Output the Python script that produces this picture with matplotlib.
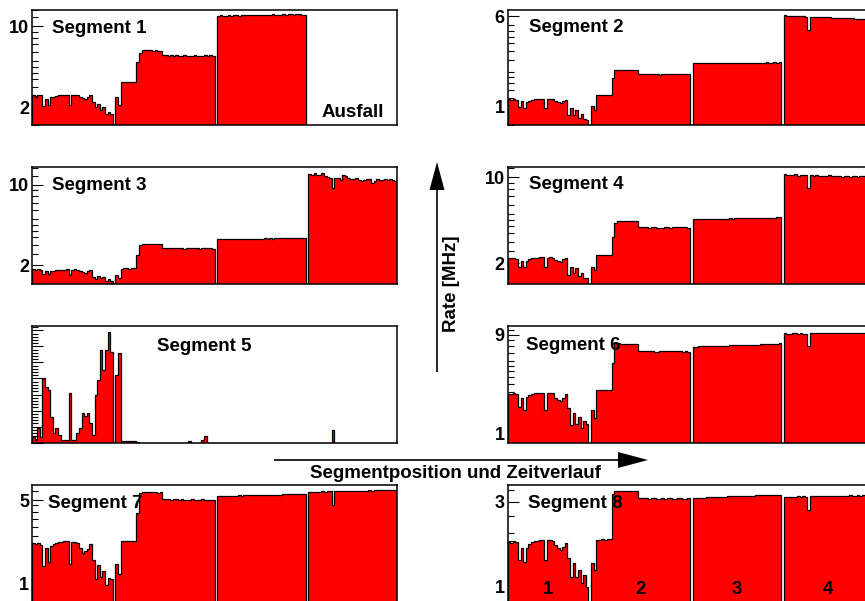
import numpy as np
import matplotlib
matplotlib.use("Agg")
import matplotlib.pyplot as plt
from matplotlib.ticker import FixedLocator, FixedFormatter, NullFormatter, MultipleLocator
from matplotlib.transforms import blended_transform_factory

plt.rcParams["font.family"] = ["Liberation Sans", "DejaVu Sans"]
plt.rcParams["font.weight"] = "bold"

# ---------------- data: rate [MHz] per time bin, for the 4 segment positions ----------------
seg1_pos1 = [2.54, 2.48, 2.57, 2.55, 2.04, 2.38, 2.08, 2.46, 2.46, 2.50, 2.54, 2.57, 2.57, 2.57, 2.08, 2.55,
             2.57, 2.54, 2.46, 2.42, 2.37, 2.46, 2.54, 2.23, 2.00, 2.15, 1.90, 2.00, 1.76, 1.82, 1.76]
seg1_pos2 = [2.46, 2.08, 3.28, 3.30, 3.30, 3.30, 3.32, 3.32, 4.90, 5.90, 6.20, 6.22, 6.20, 6.20, 6.18, 6.20,
             6.15, 6.18, 5.65, 5.62, 5.60, 5.62, 5.60, 5.62, 5.58, 5.60, 5.62, 5.60, 5.55, 5.60, 5.62, 5.60,
             5.60, 5.58, 5.62, 5.60, 5.62, 5.60]
seg1_pos3 = [12.4, 12.5, 12.4, 12.4, 12.5, 12.4, 12.5, 12.5, 12.4, 12.5, 12.5, 12.6, 12.5, 12.5, 12.6, 12.5,
             12.6, 12.6, 12.5, 12.6, 12.6, 12.7, 12.6, 12.6, 12.6, 12.7, 12.6, 12.7, 12.7, 12.6, 12.7, 12.7,
             12.6, 12.6]
seg1_pos4 = [0, 0, 0, 0, 0, 0, 0, 0, 0, 0, 0, 0, 0, 0, 0, 0, 0, 0, 0, 0, 0, 0, 0, 0, 0, 0, 0, 0, 0, 0, 0, 0, 0, 0]

seg2_pos1 = [1.16, 1.15, 1.16, 1.14, 1.00, 1.12, 0.97, 1.09, 1.13, 1.15, 1.16, 1.16, 1.17, 1.17, 0.97, 1.16,
             1.17, 1.16, 1.12, 1.09, 1.08, 1.13, 1.15, 0.85, 0.97, 0.85, 0.94, 0.80, 0.86, 0.78, 0.77]
seg2_pos2 = [1.02, 0.94, 1.26, 1.26, 1.27, 1.26, 1.27, 1.27, 1.75, 2.06, 2.08, 2.09, 2.08, 2.07, 2.08, 2.07,
             2.06, 2.07, 1.93, 1.92, 1.91, 1.91, 1.92, 1.90, 1.91, 1.90, 1.88, 1.90, 1.91, 1.90, 1.91, 1.92,
             1.91, 1.90, 1.91, 1.92, 1.91, 1.90]
seg2_pos3 = [2.37, 2.37, 2.38, 2.37, 2.38, 2.38, 2.37, 2.38, 2.38, 2.39, 2.38, 2.38, 2.39, 2.38, 2.39, 2.39,
             2.38, 2.39, 2.40, 2.39, 2.39, 2.40, 2.39, 2.40, 2.40, 2.39, 2.40, 2.40, 2.41, 2.40, 2.40, 2.41,
             2.40, 2.41]
seg2_pos4 = [6.15, 6.05, 6.03, 6.04, 6.01, 5.99, 6.00, 5.97, 5.96, 4.55, 5.95, 5.93, 5.92, 5.90, 5.90, 5.88,
             5.86, 5.85, 5.84, 5.82, 5.82, 5.80, 5.79, 5.78, 5.76, 5.75, 5.74, 5.73, 5.72, 5.70, 5.69, 5.68,
             5.66, 5.65]

seg3_pos1 = [1.83, 1.80, 1.83, 1.82, 1.67, 1.76, 1.66, 1.76, 1.79, 1.80, 1.81, 1.82, 1.82, 1.83, 1.63, 1.82,
             1.83, 1.81, 1.77, 1.74, 1.72, 1.76, 1.80, 1.56, 1.50, 1.60, 1.53, 1.56, 1.46, 1.50, 1.44]
seg3_pos2 = [1.63, 1.53, 1.86, 1.87, 1.87, 1.86, 1.87, 1.88, 2.45, 2.99, 3.08, 3.08, 3.07, 3.08, 3.06, 3.07,
             3.05, 3.06, 2.82, 2.80, 2.81, 2.80, 2.79, 2.80, 2.81, 2.79, 2.78, 2.80, 2.79, 2.80, 2.81, 2.79,
             2.78, 2.80, 2.79, 2.80, 2.82, 2.78]
seg3_pos3 = [3.35, 3.36, 3.35, 3.36, 3.37, 3.36, 3.37, 3.36, 3.38, 3.37, 3.38, 3.39, 3.38, 3.39, 3.38, 3.40,
             3.39, 3.40, 3.41, 3.40, 3.41, 3.40, 3.42, 3.41, 3.42, 3.43, 3.42, 3.43, 3.42, 3.44, 3.43, 3.44,
             3.45, 3.44]
seg3_pos4 = [12.47, 12.2, 12.6, 12.3, 12.2, 12.7, 11.9, 11.8, 11.4, 9.35, 11.4, 11.6, 11.05, 12.1, 11.9, 11.4,
             11.3, 11.2, 11.4, 11.05, 10.9, 11.1, 11.3, 11.2, 10.5, 10.9, 11.2, 11.0, 11.1, 11.3, 11.0, 11.2,
             11.1, 10.9]

seg4_pos1 = [2.22, 2.20, 2.22, 2.18, 1.88, 2.10, 1.88, 2.10, 2.17, 2.20, 2.21, 2.22, 2.23, 2.23, 1.88, 2.22,
             2.23, 2.21, 2.12, 2.08, 2.06, 2.15, 2.20, 1.61, 1.88, 1.66, 1.83, 1.58, 1.68, 1.51, 1.51]
seg4_pos2 = [1.88, 1.77, 2.34, 2.34, 2.35, 2.34, 2.35, 2.35, 3.29, 4.28, 4.42, 4.43, 4.42, 4.41, 4.42, 4.40,
             4.41, 4.40, 3.95, 3.93, 3.92, 3.93, 3.90, 3.92, 3.91, 3.88, 3.86, 3.90, 3.91, 3.92, 3.90, 3.91,
             3.92, 3.93, 3.92, 3.91, 3.93, 3.90]
seg4_pos3 = [4.56, 4.57, 4.58, 4.57, 4.58, 4.59, 4.60, 4.59, 4.60, 4.61, 4.60, 4.62, 4.61, 4.62, 4.63, 4.62,
             4.64, 4.63, 4.64, 4.65, 4.66, 4.65, 4.66, 4.67, 4.66, 4.68, 4.67, 4.69, 4.68, 4.70, 4.71, 4.70,
             4.72, 4.73]
seg4_pos4 = [10.7, 10.5, 10.4, 10.5, 10.6, 10.3, 10.5, 10.4, 10.4, 8.15, 10.4, 10.3, 10.4, 10.2, 10.3, 10.3,
             10.2, 10.4, 10.3, 10.2, 10.3, 10.2, 10.1, 10.3, 10.2, 10.1, 10.2, 10.2, 10.1, 10.3, 10.2, 10.1,
             10.2, 10.2]

seg5_pos1 = [0.37, 0.17, 0.90, 0.37, 4.00, 3.48, 3.28, 1.62, 0.58, 0.90, 0.48, 0.17, 0.17, 0.17, 3.07, 0.17,
             0.17, 0.58, 0.90, 1.87, 1.66, 1.87, 1.20, 0.48, 2.97, 3.90, 5.80, 4.52, 5.77, 6.90, 5.66]
seg5_pos2 = [4.21, 5.56, 0.10, 0.10, 0.10, 0.10, 0.10, 0.10, 0.05, 0, 0, 0, 0, 0, 0, 0,
             0, 0, 0, 0, 0, 0, 0, 0, 0, 0, 0, 0, 0.12, 0, 0, 0,
             0, 0.15, 0.40, 0, 0, 0]
seg5_pos3 = [0, 0, 0, 0, 0, 0, 0, 0, 0, 0, 0, 0, 0, 0, 0, 0, 0, 0, 0, 0, 0, 0, 0, 0, 0, 0, 0, 0, 0, 0, 0, 0, 0, 0]
seg5_pos4 = [0, 0, 0, 0, 0, 0, 0, 0, 0, 0.79, 0, 0, 0, 0, 0, 0, 0, 0, 0, 0, 0, 0, 0, 0, 0, 0, 0, 0, 0, 0, 0, 0, 0, 0]

seg6_pos1 = [2.42, 2.40, 2.44, 2.38, 1.81, 2.19, 1.68, 2.27, 2.35, 2.40, 2.45, 2.47, 2.47, 2.48, 1.68, 2.46,
             2.47, 2.44, 2.19, 2.10, 2.04, 2.19, 2.40, 1.75, 1.20, 1.56, 1.24, 1.43, 1.12, 1.33, 1.24]
seg6_pos2 = [1.68, 1.40, 2.63, 2.63, 2.64, 2.63, 2.64, 2.65, 4.78, 7.48, 7.45, 7.42, 7.40, 7.41, 7.38, 7.40,
             7.36, 7.30, 6.35, 6.30, 6.32, 6.28, 6.30, 6.25, 6.10, 6.20, 6.30, 6.32, 6.28, 6.30, 6.25, 6.32,
             6.30, 6.28, 6.30, 6.22, 6.30, 6.20]
seg6_pos3 = [6.93, 6.95, 6.98, 6.96, 7.00, 7.02, 7.00, 7.04, 7.05, 7.06, 7.04, 7.08, 7.10, 7.09, 7.12, 7.14,
             7.12, 7.16, 7.18, 7.17, 7.20, 7.22, 7.21, 7.25, 7.27, 7.26, 7.30, 7.32, 7.31, 7.35, 7.38, 7.36,
             7.42, 7.46]
seg6_pos4 = [9.35, 9.30, 9.28, 9.40, 9.32, 9.25, 9.36, 9.30, 9.25, 7.04, 9.45, 9.40, 9.38, 9.42, 9.35, 9.40,
             9.45, 9.38, 9.36, 9.40, 9.35, 9.32, 9.38, 9.40, 9.36, 9.34, 9.38, 9.40, 9.36, 9.38, 9.35, 9.37,
             9.36, 9.38]

seg7_pos1 = [2.17, 2.15, 2.17, 2.10, 1.40, 1.97, 1.52, 2.05, 2.15, 2.20, 2.22, 2.24, 2.25, 2.25, 1.47, 2.22,
             2.22, 2.20, 1.97, 1.80, 1.88, 1.95, 2.15, 1.57, 1.10, 1.42, 1.13, 1.28, 0.97, 1.12, 1.10]
seg7_pos2 = [1.47, 1.21, 2.27, 2.28, 2.28, 2.27, 2.28, 2.29, 3.87, 5.75, 5.80, 5.82, 5.80, 5.81, 5.79, 5.80,
             5.78, 5.79, 5.08, 5.06, 5.07, 5.05, 5.08, 5.06, 5.04, 5.07, 5.05, 4.98, 5.04, 5.06, 5.03, 5.05,
             5.00, 5.06, 5.04, 5.02, 5.05, 5.03]
seg7_pos3 = [5.40, 5.41, 5.42, 5.41, 5.43, 5.44, 5.43, 5.45, 5.46, 5.45, 5.47, 5.48, 5.47, 5.49, 5.50, 5.49,
             5.51, 5.52, 5.51, 5.53, 5.54, 5.53, 5.55, 5.56, 5.55, 5.57, 5.58, 5.57, 5.59, 5.60, 5.61, 5.62,
             5.63, 5.65]
seg7_pos4 = [5.85, 5.87, 5.88, 5.87, 5.89, 5.90, 5.89, 5.91, 5.90, 4.54, 5.92, 5.93, 5.92, 5.94, 5.95, 5.94,
             5.96, 5.97, 5.96, 5.98, 5.99, 5.98, 6.00, 6.01, 6.00, 6.02, 6.03, 6.02, 6.04, 6.05, 6.04, 6.06,
             6.07, 6.06]

seg8_pos1 = [1.79, 1.76, 1.80, 1.78, 1.41, 1.64, 1.38, 1.64, 1.74, 1.77, 1.80, 1.80, 1.82, 1.83, 1.41, 1.82,
             1.83, 1.80, 1.71, 1.64, 1.60, 1.68, 1.76, 1.44, 1.14, 1.35, 1.14, 1.24, 1.05, 1.16, 1.00]
seg8_pos2 = [1.35, 1.24, 1.83, 1.83, 1.84, 1.83, 1.84, 1.84, 3.30, 3.45, 3.46, 3.46, 3.45, 3.46, 3.45, 3.44,
             3.45, 3.44, 3.15, 3.14, 3.13, 3.14, 3.12, 3.14, 3.13, 3.10, 3.11, 3.13, 3.12, 3.14, 3.13, 3.11,
             3.12, 3.14, 3.13, 3.10, 3.12, 3.14]
seg8_pos3 = [3.14, 3.15, 3.15, 3.16, 3.16, 3.17, 3.17, 3.18, 3.18, 3.19, 3.19, 3.20, 3.20, 3.21, 3.21, 3.21,
             3.22, 3.22, 3.23, 3.23, 3.23, 3.24, 3.24, 3.24, 3.25, 3.25, 3.25, 3.26, 3.26, 3.26, 3.27, 3.27,
             3.27, 3.27]
seg8_pos4 = [3.18, 3.19, 3.20, 3.19, 3.20, 3.21, 3.20, 3.21, 3.20, 2.70, 3.22, 3.21, 3.22, 3.22, 3.21, 3.23,
             3.22, 3.23, 3.22, 3.23, 3.24, 3.23, 3.24, 3.23, 3.24, 3.25, 3.24, 3.24, 3.25, 3.24, 3.25, 3.25,
             3.24, 3.25]

segment_blocks = [
    [seg1_pos1, seg1_pos2, seg1_pos3, seg1_pos4],
    [seg2_pos1, seg2_pos2, seg2_pos3, seg2_pos4],
    [seg3_pos1, seg3_pos2, seg3_pos3, seg3_pos4],
    [seg4_pos1, seg4_pos2, seg4_pos3, seg4_pos4],
    [seg5_pos1, seg5_pos2, seg5_pos3, seg5_pos4],
    [seg6_pos1, seg6_pos2, seg6_pos3, seg6_pos4],
    [seg7_pos1, seg7_pos2, seg7_pos3, seg7_pos4],
    [seg8_pos1, seg8_pos2, seg8_pos3, seg8_pos4],
]
y_ranges = [(1.40, 14.0), (0.693, 6.85), (1.357, 14.26), (1.35, 12.06),
            (0.0, 7.3), (0.81, 11.0), (0.70, 6.68), (0.82, 3.72)]
y_labels = [[2, 10], [1, 6], [2, 10], [2, 10], [], [1, 9], [1, 5], [1, 3]]
position_labels = ["1", "2", "3", "4"]

# ---------------- layout (pixels) ----------------
W, H = 865, 601
fig = plt.figure(figsize=(W / 100, H / 100), dpi=100)

panel_boxes = [
    (32, 9.5, 397, 125.3), (507.5, 9.5, 872.5, 125.3),
    (32, 167.3, 397, 284.3), (507.5, 167.3, 872.5, 284.3),
    (32, 325.5, 397, 442.7), (507.5, 326, 872.5, 442.7),
    (32, 485, 397, 602), (507.5, 485, 872.5, 602),
]
title_pos = [(51.7, 33.3), (529.3, 32.3), (51.7, 190), (529.3, 189.3),
             (156.7, 351), (526, 350), (47.7, 508.3), (528.3, 508.3)]

MULTS = [1, 1.2, 1.4, 1.6, 1.8, 2, 2.5, 3, 3.5, 4, 4.5, 5, 6, 7, 8, 9]


def assemble(blocks):
    vals = []
    for i, b in enumerate(blocks):
        if i:
            vals.append(0.0)  # empty separator bin between segment positions
        vals.extend(b)
    return np.array(vals, dtype=float)


axes = []
for idx, box in enumerate(panel_boxes):
    x0, y0, x1, y1 = box
    ax = fig.add_axes([x0 / W, 1 - y1 / H, (x1 - x0) / W, (y1 - y0) / H])
    axes.append(ax)
    vals = assemble(segment_blocks[idx])
    edges = np.arange(len(vals) + 1)
    lo, hi = y_ranges[idx]
    if idx == 4:
        v = vals
        base = 0.0
    else:
        ax.set_yscale("log")
        base = lo * 1e-3
        v = np.where(vals > 0, vals, base)
    ax.stairs(v, edges, baseline=base, fill=True, color="#ff0000", lw=0, zorder=2)
    ax.stairs(v, edges, baseline=base, fill=False, color="black", lw=0.9, zorder=3)
    ax.set_xlim(0, len(vals))
    ax.set_ylim(lo, hi)

    if idx == 4:
        ax.yaxis.set_major_locator(MultipleLocator(1))
        ax.yaxis.set_minor_locator(MultipleLocator(0.2))
        ax.yaxis.set_major_formatter(NullFormatter())
    else:
        majors = y_labels[idx]
        ax.yaxis.set_major_locator(FixedLocator(majors))
        ax.yaxis.set_major_formatter(FixedFormatter([str(m) for m in majors]))
        cand = [d * m for d in (0.1, 1, 10, 100) for m in MULTS]
        minors = [c for c in cand if lo <= c <= hi and all(abs(c - M) > 1e-9 for M in majors)]
        ax.yaxis.set_minor_locator(FixedLocator(minors))
        ax.yaxis.set_minor_formatter(NullFormatter())
    ax.tick_params(axis="y", which="both", direction="in", left=True, right=False,
                   width=0.8, pad=2, labelsize=13, colors="black")
    ax.tick_params(axis="y", which="major", length=8)
    ax.tick_params(axis="y", which="minor", length=4)
    ax.tick_params(axis="x", which="both", bottom=False, top=False, labelbottom=False)
    for s in ax.spines.values():
        s.set_linewidth(1.1)
        s.set_zorder(5)
    for lab in ax.get_yticklabels():
        lab.set_fontweight("bold")

# position numbers inside the last panel
ax8 = axes[7]
tr = blended_transform_factory(ax8.transData, ax8.transAxes)
start = 0
for k, b in enumerate(segment_blocks[7]):
    center = start + len(b) / 2
    ax8.text(center, 0.066, position_labels[k], transform=tr, ha="center", va="baseline",
             fontsize=13.5, fontweight="bold", zorder=6)
    start += len(b) + 1

# ---------------- overlay: titles, arrows, axis captions ----------------
ov = fig.add_axes([0, 0, 1, 1], zorder=10)
ov.set_xlim(0, W)
ov.set_ylim(H, 0)
ov.axis("off")
ov.patch.set_alpha(0)

for i, (tx, ty) in enumerate(title_pos):
    ov.text(tx, ty, f"Segment {i + 1}", ha="left", va="baseline", fontsize=13.5, fontweight="bold")
ov.text(321.7, 116.7, "Ausfall", ha="left", va="baseline", fontsize=13.5, fontweight="bold")

# vertical arrow (rate)
ov.plot([437, 437], [372, 188], color="black", lw=1.2, solid_capstyle="butt")
ov.fill([429.5, 444.5, 437], [190, 190, 162], color="black", lw=0)
ov.text(451, 283.5, "Rate [MHz]", rotation=90, ha="center", va="center", fontsize=13.5, fontweight="bold")

# horizontal arrow (segment position / time)
ov.plot([274, 620], [460, 460], color="black", lw=1.2, solid_capstyle="butt")
ov.fill([618, 618, 648], [452, 468, 460], color="black", lw=0)
ov.text(310, 478.3, "Segmentposition und Zeitverlauf", ha="left", va="baseline",
        fontsize=13.5, fontweight="bold")

fig.savefig("out.png", dpi=100)
